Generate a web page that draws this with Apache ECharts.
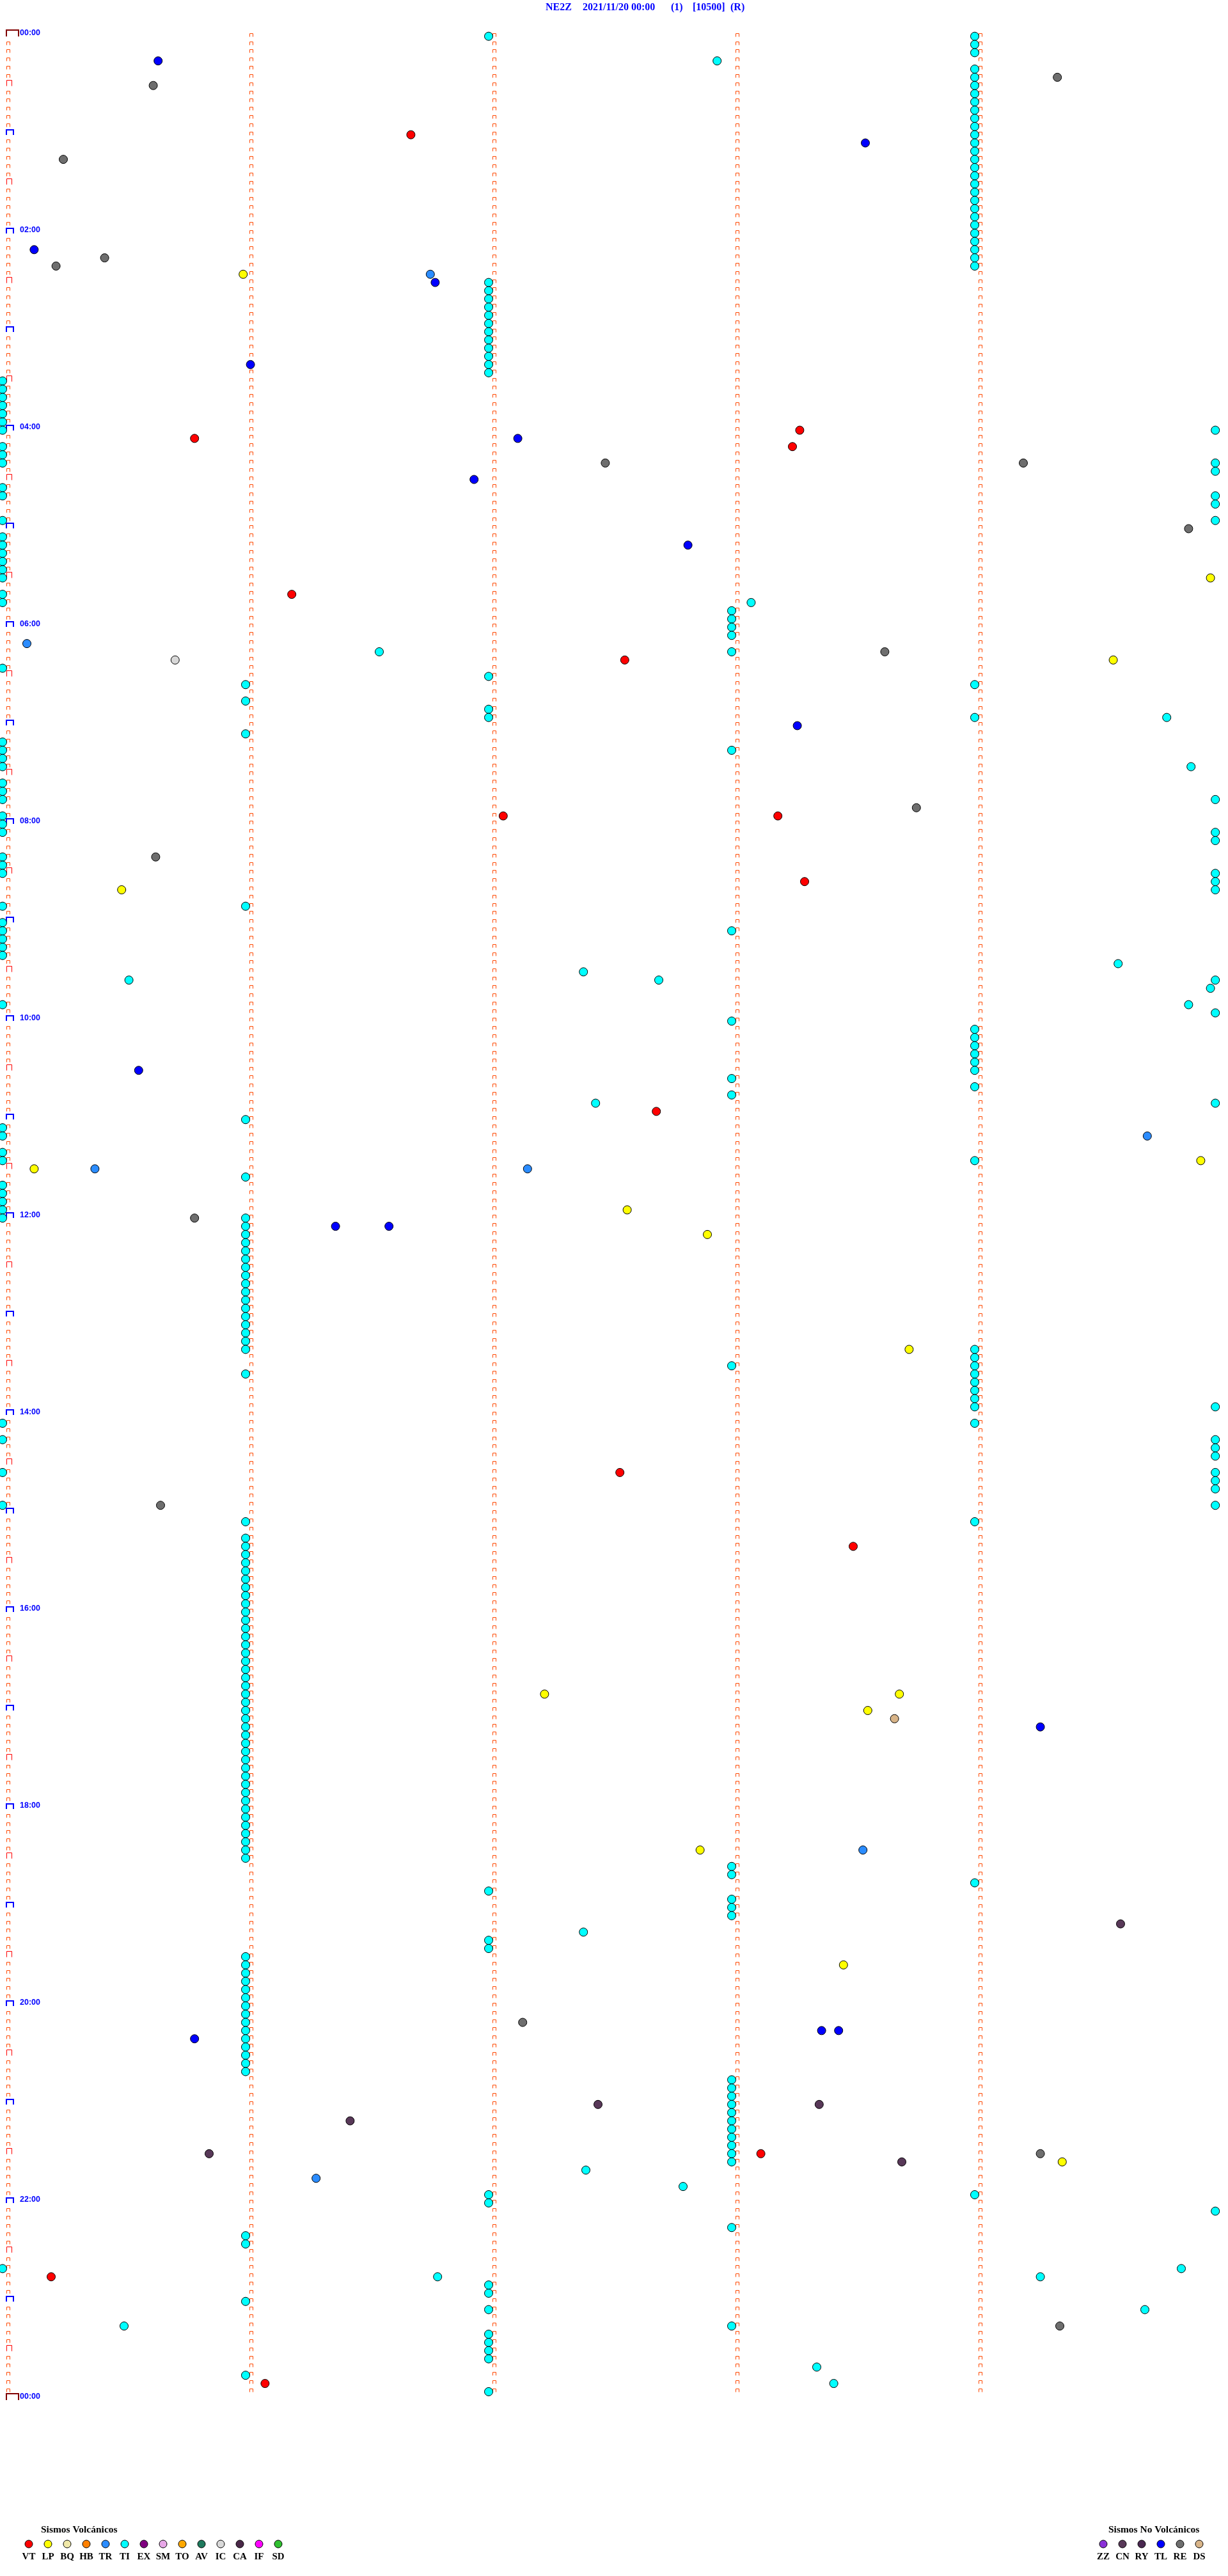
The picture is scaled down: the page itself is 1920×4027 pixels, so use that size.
<!DOCTYPE html>
<html><head><meta charset="utf-8">
<script src="https://cdn.jsdelivr.net/npm/echarts@6/dist/echarts.min.js"></script>
<style>html,body{margin:0;padding:0;background:#fff}#c{width:1920px;height:4027px}</style>
</head><body><div id="c"></div>
<script>
// ---- Event times, in minutes after 00:00 (2021/11/20) ----
const VT = [61.68, 243.28, 245.79, 253.25, 341.19, 382.56, 477.06, 478.19, 518.30, 657.69, 877.54, 923.50, 1293.12, 1365.20, 1431.08];
const LP = [145.99, 334.97, 384.57, 520.49, 689.93, 690.13, 717.57, 732.90, 803.73, 1012.23, 1013.69, 1023.56, 1107.87, 1178.46, 1299.36];
const BQ = [];
const HB = [];
const TR = [146.76, 370.10, 674.71, 690.38, 692.16, 1108.54, 1306.29];
const TI = [
  2, 4, 9, 14, 17.94, 24, 29, 34, 39, 44, 49, 54, 59, 64, 69, 74, 79, 84, 89, 94, 99, 104, 109, 114, 119, 124, 129, 134, 139, 144,
  152, 157, 162, 167, 172, 177, 182, 187, 192, 197, 202, 207,
  210, 215, 220, 225, 230, 235, 240, 244.99, 250, 255, 260, 264.99, 269.99, 275, 280, 284.99, 289.99, 295, 299.99,
  305, 310, 315, 320, 325, 330, 340, 345, 348.08, 353, 358, 363, 368, 376.55, 378, 385,
  392, 396, 399, 406, 412, 417, 419, 419.79, 426, 430, 435, 438, 440, 445, 449.89, 455, 460, 465, 469.99,
  475, 480, 485, 489.99, 494.99, 500, 505, 510, 514.99, 519.99, 524.99, 530, 531, 540, 545, 548, 550, 555, 560,
  569.59, 572.39, 575.52, 577.70, 579.99, 584.97, 590, 594.88, 599.99, 603,
  609, 614, 619, 624, 629, 634, 638, 644, 648, 652.44, 654.99, 661, 665, 670, 680, 685, 689, 696,
  700, 705, 710, 715, 720,
  721, 726, 731, 736, 741, 746, 751, 756, 761, 766, 771, 776, 781, 786, 791, 796, 801,
  804, 809, 813, 814, 816, 819, 824, 829, 834, 839, 839.99, 845, 849, 855, 859.99, 864.99, 869.99, 875, 879.99, 884.99, 889.99, 895, 899.99,
  906, 909,
  916, 921, 926, 931, 936, 941, 946, 951, 956, 961, 966, 971, 976, 981, 986, 991, 996, 1001, 1006, 1011,
  1016, 1021, 1026, 1031, 1036, 1041, 1046, 1051, 1056, 1061, 1066, 1071, 1076, 1081, 1086, 1091, 1096, 1101, 1106, 1111,
  1118, 1123, 1129, 1132, 1138, 1143, 1148, 1157.39, 1162, 1167,
  1171, 1176, 1181, 1186, 1191, 1196, 1201, 1206, 1211, 1216, 1221, 1226, 1231, 1236, 1241,
  1248, 1253, 1258, 1263, 1268, 1273, 1278, 1283, 1288, 1293, 1298,
  1302.40, 1312.80, 1317, 1319, 1322, 1329.99, 1338, 1341, 1346, 1360, 1364.85, 1366.79, 1369.27, 1372, 1377, 1381,
  1387, 1389.70, 1395.50, 1398, 1402, 1407, 1412, 1417, 1423.35, 1426, 1433.42, 1437
];
const EX = [];
const SM = [];
const TO = [];
const AV = [];
const IC = [380.71];
const CA = [];
const IF = [];
const SD = [];
const ZZ = [];
const CN = [1154.60, 1262.45, 1263.36, 1271.43, 1290.85, 1298.70];
const RY = [];
const TL = [15.64, 68.55, 130.13, 151.78, 201.02, 247.12, 271.94, 312.82, 423.27, 630.56, 726.37, 726.59, 1034.27, 1218.37, 1218.44, 1220.79];
const RE = [29.34, 30.62, 75.25, 135.42, 140.22, 262.48, 264.20, 304.88, 378.63, 473.76, 500.63, 720.79, 895.65, 1212.14, 1294.27, 1399.35];
const DS = [1028.67];

// ---- Labels ----
const VOLC_TYPES = ['VT','LP','BQ','HB','TR','TI','EX','SM','TO','AV','IC','CA','IF','SD'];
const NONVOLC_TYPES = ['ZZ','CN','RY','TL','RE','DS'];
const HOUR_LABELS = ['00:00','02:00','04:00','06:00','08:00','10:00','12:00','14:00','16:00','18:00','20:00','22:00','00:00'];
const TITLE_PARTS = ['NE2Z', '2021/11/20 00:00', '(1)', '[10500]', '(R)'];
const LEGEND_TITLES = ['Sismos Volcánicos', 'Sismos No Volcánicos'];
const MIN_PER_ROW = 5;
const ROWS = 288;

// ---- Styles ----
const COLORS = {
  VT:'#ff0000', LP:'#ffff00', BQ:'#f0e8a8', HB:'#ff8000', TR:'#2b8cff', TI:'#00ffff', EX:'#800080',
  SM:'#e8a8e8', TO:'#ffa800', AV:'#1f7a5e', IC:'#d8d8d8', CA:'#4a2848', IF:'#ff00ff', SD:'#30c030',
  ZZ:'#8a30d8', CN:'#583858', RY:'#4a2850', TL:'#0000ff', RE:'#6e6e6e', DS:'#d8b488'
};
const EVENTS = {VT, LP, BQ, HB, TR, TI, EX, SM, TO, AV, IC, CA, IF, SD, ZZ, CN, RY, TL, RE, DS};

function toPoint(t) {
  const r = Math.floor(t / MIN_PER_ROW + 1e-9);
  return [t - r * MIN_PER_ROW, r];
}

// minute marks: one per minute of every row
const marks = [];
for (let r = 0; r <= ROWS; r++) {
  for (let c = 0; c < MIN_PER_ROW; c++) {
    if (r === ROWS && c > 0) continue;
    let kind = 0;
    if (c === 0) {
      if (r % 288 === 0) kind = 3;
      else if (r % 12 === 0) kind = 2;
      else if (r % 6 === 0) kind = 1;
    }
    marks.push([c, r, kind]);
  }
}
const MARK_STYLE = [
  {dx: 6,  w: 5,  h: 5,  color: '#ff4800', lw: 1},
  {dx: 6,  w: 8,  h: 9,  color: '#ff0000', lw: 1},
  {dx: 6,  w: 11, h: 8,  color: '#0000ff', lw: 2},
  {dx: 6,  w: 19, h: 10, color: '#800000', lw: 2}
];

const hourRows = HOUR_LABELS.map((s, i) => [0, i * 24, s]);

const series = [];
series.push({
  type: 'custom', name: 'marks', data: marks, silent: true, z: 2,
  renderItem: function (params, api) {
    const p = api.coord([api.value(0), api.value(1)]);
    const s = MARK_STYLE[api.value(2)];
    const half = s.lw === 1 ? 0.5 : 0;
    const x0 = Math.round(p[0]) + s.dx + half;
    const yb = Math.round(p[1]) + half;
    const yt = yb - s.h;
    return {
      type: 'polyline',
      shape: {points: [[x0, yb], [x0, yt], [x0 + s.w, yt], [x0 + s.w, yb]]},
      style: {stroke: s.color, lineWidth: s.lw, fill: null}
    };
  }
});
series.push({
  type: 'custom', name: 'hours', data: hourRows, silent: true, z: 3,
  renderItem: function (params, api) {
    const p = api.coord([api.value(0), api.value(1)]);
    return {
      type: 'text',
      style: {
        text: HOUR_LABELS[params.dataIndex], x: p[0] + 27, y: p[1] - 5,
        fill: '#0000ff', font: 'bold 12.5px "Liberation Sans", Arial, sans-serif',
        align: 'left', verticalAlign: 'middle'
      }
    };
  }
});
Object.keys(EVENTS).forEach(k => {
  series.push({
    type: 'scatter', name: k, data: EVENTS[k].map(toPoint),
    symbol: 'circle', symbolSize: 13, z: 5,
    itemStyle: {color: COLORS[k], borderColor: '#000', borderWidth: 1, opacity: 1}
  });
});

// ---- legend + title graphics ----
const graphic = [];
const titleX = [853, 911, 1049, 1083, 1142];
TITLE_PARTS.forEach((t, i) => graphic.push({
  type: 'text', left: titleX[i], top: 4,
  style: {text: t, fill: '#0000ff', font: 'bold 16px "Liberation Serif", "Times New Roman", serif'}
}));
graphic.push({type: 'text', left: 64, top: 3947,
  style: {text: LEGEND_TITLES[0], fill: '#000', font: 'bold 15.5px "Liberation Serif", serif'}});
graphic.push({type: 'text', left: 1733, top: 3947,
  style: {text: LEGEND_TITLES[1], fill: '#000', font: 'bold 15.5px "Liberation Serif", serif'}});
function legendRow(types, x0) {
  types.forEach((k, i) => {
    const cx = x0 + 30 * i;
    graphic.push({type: 'circle', shape: {cx: cx, cy: 3977, r: 6},
      style: {fill: COLORS[k], stroke: '#000', lineWidth: 1}});
    graphic.push({type: 'text', x: cx, y: 3997,
      style: {text: k, fill: '#000', font: 'bold 15px "Liberation Serif", serif', align: 'center', verticalAlign: 'middle'}});
  });
}
legendRow(VOLC_TYPES, 45);
legendRow(NONVOLC_TYPES, 1725);

const chart = echarts.init(document.getElementById('c'), null, {renderer: 'canvas'});
chart.setOption({
  animation: false,
  backgroundColor: '#ffffff',
  grid: {left: 4, top: 56.7, width: 1900, height: 3695},
  xAxis: {type: 'value', min: 0, max: MIN_PER_ROW, show: false},
  yAxis: {type: 'value', min: 0, max: ROWS, inverse: true, show: false},
  series: series,
  graphic: graphic
});
</script></body></html>
